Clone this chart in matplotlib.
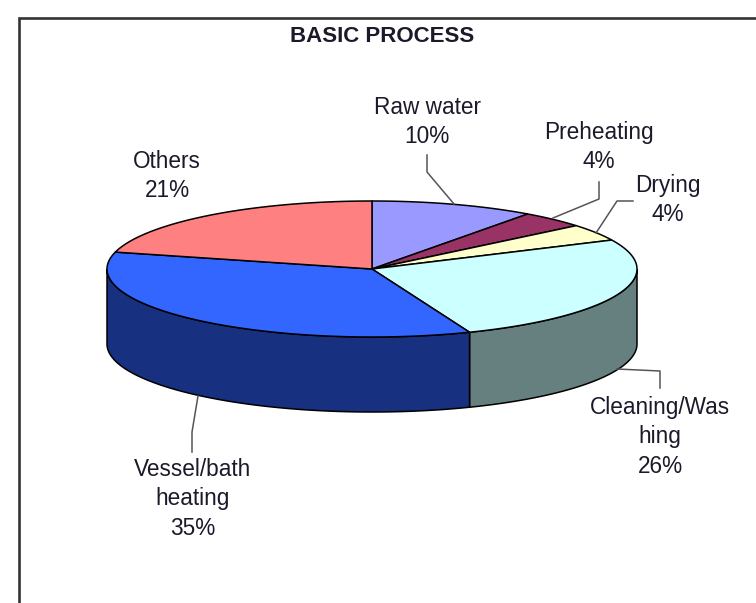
import numpy as np
import matplotlib
matplotlib.use('Agg')
import matplotlib.pyplot as plt

plt.rcParams['font.family'] = ['Liberation Sans', 'DejaVu Sans']

# data
labels = ['Raw water', 'Preheating', 'Drying', 'Cleaning/Was\nhing', 'Vessel/bath\nheating', 'Others']
values = [10, 4, 4, 26, 35, 21]
top_colors = ['#9999FF', '#993366', '#FFFFCC', '#CCFFFF', '#3366FF', '#FF8080']
side_colors = ['#666699', '#662244', '#AAAA88', '#667F7F', '#183080', '#AA5555']

# layout, all in image pixels
cx, cy = 372, 269
rx, ry = 265, 68
depth = 75
label_pos = [(427, 122), (599, 147), (668, 200), (660, 437), (193, 499), (167, 176)]
leaders = [
    [(427, 155), (427, 172), (454, 204)],
    [(599, 182), (599, 199), (553, 218)],
    [(633, 201), (617, 201), (596, 233)],
    [(660, 388), (660, 371), (617, 369)],
    [(192, 452), (192, 432), (198, 396)],
    None,
]

fig = plt.figure(figsize=(7.56, 6.03), dpi=100)
ax = fig.add_axes([0, 0, 1, 1])
ax.set_xlim(0, 756)
ax.set_ylim(603, 0)
ax.axis('off')


def rim(a0, a1, dy=0):
    # angles are degrees clockwise from the top of the pie
    t = np.radians(np.linspace(a0, a1, 120))
    return cx + rx * np.sin(t), cy + dy - ry * np.cos(t)


# frame, open at the right and the bottom of the picture
ax.plot([19, 19, 756], [603, 18, 18], color='#333333', lw=1.9, solid_joinstyle='miter')

edges = np.concatenate([[0], np.cumsum(values)]) * 360.0 / sum(values)

# side wall, only the front half is visible
for i in range(len(values)):
    a0 = max(edges[i], 90)
    a1 = min(edges[i + 1], 270)
    if a1 <= a0:
        continue
    x, y = rim(a0, a1)
    xb, yb = rim(a1, a0, depth)
    ax.fill(np.r_[x, xb], np.r_[y, yb], facecolor=side_colors[i], edgecolor='black', lw=1.1)

# top face
for i in range(len(values)):
    x, y = rim(edges[i], edges[i + 1])
    ax.fill(np.r_[cx, x], np.r_[cy, y], facecolor=top_colors[i], edgecolor='black', lw=1.1)

for i in range(len(values)):
    if leaders[i] is not None:
        xs, ys = zip(*leaders[i])
        ax.plot(xs, ys, color='#555555', lw=1.1)
    txt = '%s\n%d%%' % (labels[i], values[i])
    ax.text(label_pos[i][0], label_pos[i][1], txt, ha='center', va='center',
            fontsize=16.3, linespacing=1.38, color='#1a1a2a')

ax.text(382, 36, 'BASIC PROCESS', ha='center', va='center', fontsize=16,
        fontweight='bold', color='#1a1a2a')

fig.savefig('out.png', dpi=100)
